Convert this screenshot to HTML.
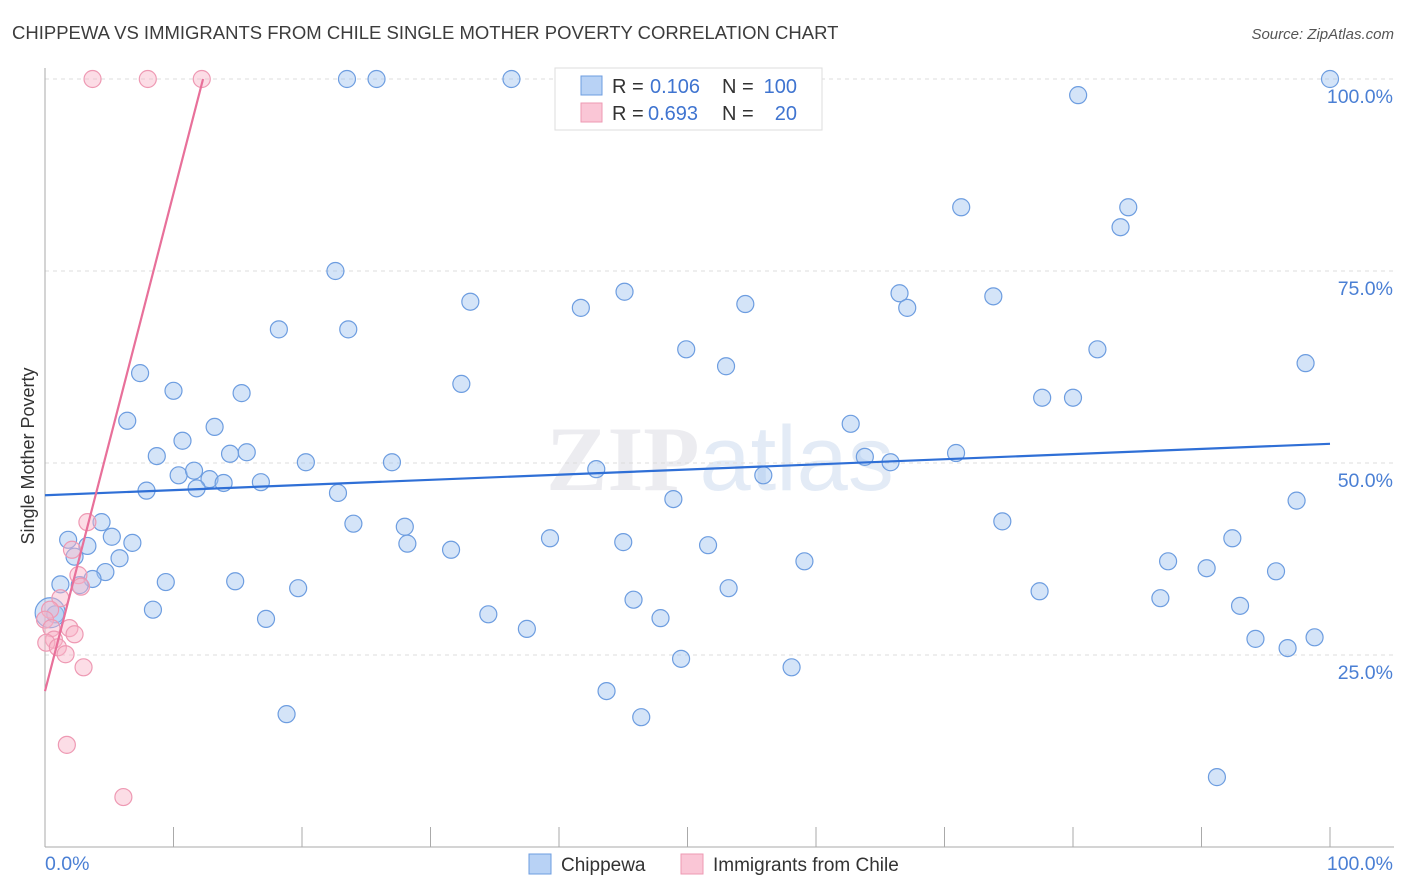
<!DOCTYPE html>
<html><head><meta charset="utf-8"><style>
body{margin:0;background:#fff;font-family:"Liberation Sans",sans-serif;}
svg{display:block}
</style></head><body>
<svg id="c" width="1406" height="892">
<text x="12" y="39" font-size="18.5" fill="#3c3c3c">CHIPPEWA VS IMMIGRANTS FROM CHILE SINGLE MOTHER POVERTY CORRELATION CHART</text>
<text x="1394" y="39" font-size="15" fill="#555" font-style="italic" text-anchor="end">Source: ZipAtlas.com</text>
<text x="720" y="490" font-size="92" fill="#ececf0" text-anchor="middle" font-family="Liberation Serif,serif" font-weight="bold">ZIP<tspan fill="#e3ebf6" font-family="Liberation Sans,sans-serif" font-weight="normal">atlas</tspan></text>
<text transform="translate(34,456) rotate(-90)" font-size="18" fill="#333" text-anchor="middle">Single Mother Poverty</text>
<g id="grid"></g><g id="ax"></g><g id="pts"></g><g id="lines"></g>
<g>
<rect x="555" y="68" width="267" height="62" fill="#fff" stroke="#ddd"/>
<rect x="581" y="76" width="21" height="19" fill="#b8d2f5" stroke="#6d9de0"/>
<rect x="581" y="103" width="21" height="19" fill="#fac6d6" stroke="#ee99b3"/>
<text x="612" y="93" font-size="20" fill="#333">R =</text>
<text x="650" y="93" font-size="20" fill="#3f74d0">0.106</text>
<text x="722" y="93" font-size="20" fill="#333">N =</text>
<text x="797" y="93" font-size="20" fill="#3f74d0" text-anchor="end">100</text>
<text x="612" y="120" font-size="20" fill="#333">R =</text>
<text x="648" y="120" font-size="20" fill="#3f74d0">0.693</text>
<text x="722" y="120" font-size="20" fill="#333">N =</text>
<text x="797" y="120" font-size="20" fill="#3f74d0" text-anchor="end">20</text>
</g>
<g>
<rect x="529" y="854" width="22" height="20" fill="#b8d2f5" stroke="#6d9de0"/>
<text x="561" y="871" font-size="19" fill="#333">Chippewa</text>
<rect x="681" y="854" width="22" height="20" fill="#fac6d6" stroke="#ee99b3"/>
<text x="713" y="871" font-size="19" fill="#333">Immigrants from Chile</text>
</g>
</svg>
<script>
const blueX=[23.5,25.8,36.3,100,80.4,71.3,84.3,83.7,22.6,18.2,23.6,33.1,41.7,45.1,54.5,66.5,67.1,73.8,49.9,53.0,81.9,98.1,7.4,10.0,15.3,32.4,77.6,80.0,6.4,13.2,10.7,8.7,14.4,15.7,62.7,63.8,65.8,70.9,20.3,27.0,42.9,55.9,10.4,11.6,12.8,13.9,11.8,16.8,7.9,22.8,48.9,97.4,4.4,24.0,28.0,74.5,1.8,5.2,3.3,6.8,2.3,28.2,31.6,39.3,45.0,51.6,92.4,5.8,4.7,59.1,87.4,90.4,95.8,1.2,3.7,2.7,9.4,14.8,19.7,53.2,77.4,86.8,45.8,8.4,34.5,93.0,0.8,17.2,37.5,47.9,94.2,96.7,98.8,49.5,58.1,43.7,46.4,18.8,91.2,0.4];
const blueY=[100,100,100,100,97.9,83.3,83.3,80.7,75.0,67.4,67.4,71.0,70.2,72.3,70.7,72.1,70.2,71.7,64.8,62.6,64.8,63.0,61.7,59.4,59.1,60.3,58.5,58.5,55.5,54.7,52.9,50.9,51.2,51.4,55.1,50.8,50.1,51.3,50.1,50.1,49.2,48.4,48.4,49.0,47.9,47.4,46.7,47.5,46.4,46.1,45.3,45.1,42.3,42.1,41.7,42.4,40.0,40.4,39.2,39.6,37.8,39.5,38.7,40.2,39.7,39.3,40.2,37.6,35.8,37.2,37.2,36.3,35.9,34.2,34.9,34.1,34.5,34.6,33.7,33.7,33.3,32.4,32.2,30.9,30.3,31.4,30.3,29.7,28.4,29.8,27.1,25.9,27.3,24.5,23.4,20.3,16.9,17.3,9.1,30.5];
const pinkX=[3.7,8.0,12.2,3.3,2.1,2.6,2.8,1.2,0.4,0,0.5,1.9,2.3,0.7,0.1,1.0,1.6,3.0,1.7,6.1];
const pinkY=[100,100,100,42.3,38.7,35.4,33.9,32.4,30.9,29.6,28.5,28.5,27.7,27.0,26.6,26.0,25.1,23.4,13.3,6.5];
const blueTrend=[45.8,52.5];
const pinkTrend=[20.3,6.48];
const yTicks=[25,50,75,100];
const yTickLabels=["25.0%","50.0%","75.0%","100.0%"];
const xTicks=[0,10,20,30,40,50,60,70,80,90,100];
const NS="http://www.w3.org/2000/svg";
const sx=v=>45+v*12.85, sy=v=>847-v*7.68;
function mk(p,t,a){const e=document.createElementNS(NS,t);for(const k in a)e.setAttribute(k,a[k]);document.getElementById(p).appendChild(e);return e;}
yTicks.forEach((t,i)=>{
 const g=mk('grid','line',{x1:45,x2:1394,y1:sy(t),y2:sy(t),stroke:'#ddd','stroke-dasharray':'4,4'});
 
 
 const l=mk('ax','text',{x:1393,y:sy(t)+24,'font-size':19.5,fill:'#4a7fd4','text-anchor':'end'});
 l.textContent=yTickLabels[i];
 
 
});
const ya=mk('ax','line',{x1:45,x2:45,y1:68,y2:847,stroke:'#aaa'});


const xa=mk('ax','line',{x1:45,x2:1394,y1:847,y2:847,stroke:'#aaa'});


xTicks.forEach(t=>{const k=mk('ax','line',{x1:sx(t),x2:sx(t),y1:827,y2:847,stroke:'#aaa'});
 
 });
const x0=mk('ax','text',{x:45,y:870,'font-size':19.5,fill:'#4a7fd4'});x0.textContent='0.0%';


const x1=mk('ax','text',{x:1393,y:870,'font-size':19.5,fill:'#4a7fd4','text-anchor':'end'});x1.textContent='100.0%';


blueX.forEach((v,i)=>{const c=mk('pts','circle',{cx:sx(v),cy:sy(blueY[i]),r:i==blueX.length-1?15:8.5,fill:'rgba(160,195,240,0.45)',stroke:'#6d9de0','stroke-width':1.2});
 
 });
pinkX.forEach((v,i)=>{const c=mk('pts','circle',{cx:sx(v),cy:sy(pinkY[i]),r:8.5,fill:'rgba(248,180,200,0.45)',stroke:'#ee99b3','stroke-width':1.2});
 
 });
const bl=mk('lines','line',{x1:sx(0),y1:sy(blueTrend[0]),x2:sx(100),y2:sy(blueTrend[1]),stroke:'#2f6fd6','stroke-width':2.2});


const xe=(100-pinkTrend[0])/pinkTrend[1];
const pl=mk('lines','line',{x1:sx(0),y1:sy(pinkTrend[0]),x2:sx(xe),y2:sy(100),stroke:'#e8709a','stroke-width':2.2});


</script>
</body></html>
